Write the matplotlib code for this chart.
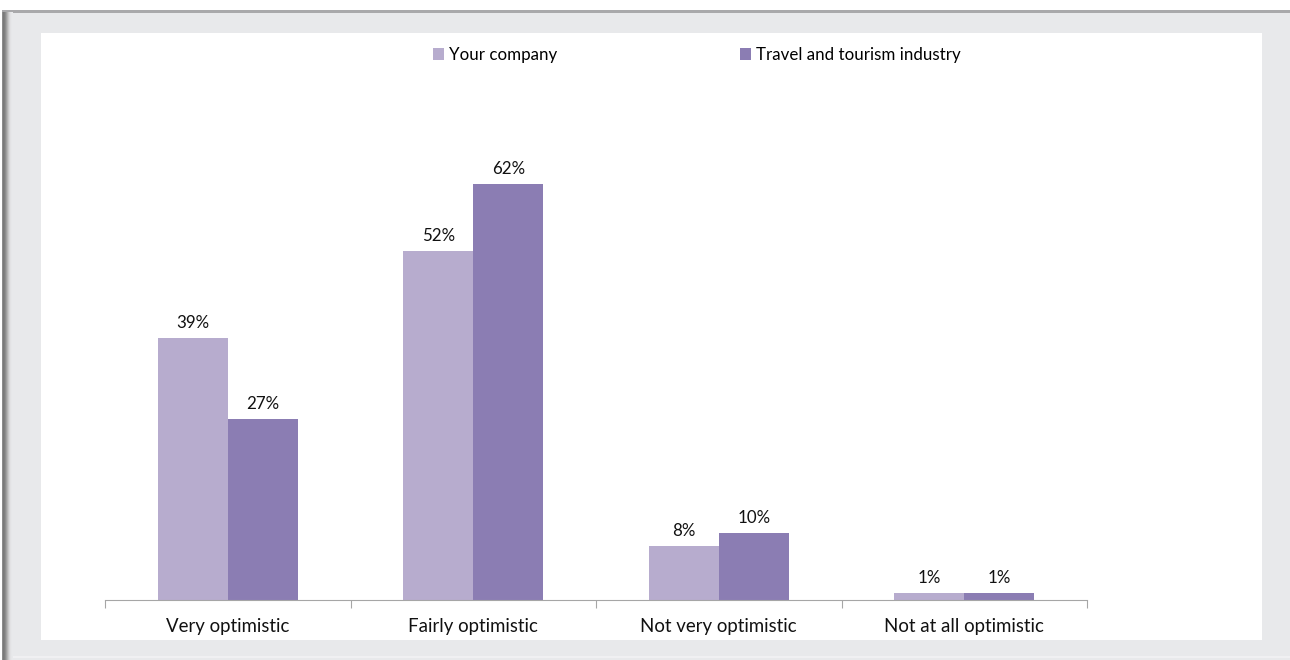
import numpy as np
import matplotlib.pyplot as plt
from matplotlib.patches import Rectangle

categories = ['Very optimistic', 'Fairly optimistic', 'Not very optimistic', 'Not at all optimistic']
your_company = [39, 52, 8, 1]
industry = [27, 62, 10, 1]
series_names = ['Your company', 'Travel and tourism industry']

light = '#b7acce'
dark = '#8b7db3'

plt.rcParams['font.family'] = ['Lato', 'DejaVu Sans']

W, H = 1290, 660
fig = plt.figure(figsize=(W / 100, H / 100), dpi=100, facecolor='#e8e9eb')

def px_rect(x0, y0, x1, y1, color):
    # rectangle given in pixel coords from the top-left corner
    fig.add_artist(Rectangle((x0 / W, 1 - y1 / H), (x1 - x0) / W, (y1 - y0) / H,
                             transform=fig.transFigure, facecolor=color,
                             edgecolor='none', zorder=0))

# frame: white strip on top, grey rule, soft shadow down the left side
px_rect(0, 0, W, 10, 'white')
px_rect(0, 10, W, 13, '#a9a9ab')
shades = ['#d8d8d8', '#b0b0b0', '#8c8c8c', '#7a7a7a', '#808080', '#8e8e8e',
          '#a0a0a0', '#b4b4b4', '#c8c8c8', '#d8d8da', '#e2e2e4', '#e6e7e9', '#e8e9eb']
for i, c in enumerate(shades):
    px_rect(i, 12, i + 1, H, c)
px_rect(0, 10, 2, H, 'white')
px_rect(13, 656, W, 658, '#f0f0f2')
# white plot panel
px_rect(41, 33, 1262, 640, 'white')

ax = fig.add_axes([105 / W, 1 - 600 / H, (1087 - 105) / W, 470 / H])
ax.set_facecolor('none')

x = np.arange(len(categories))
w = 0.285
b1 = ax.bar(x - w / 2, your_company, w, color=light, label=series_names[0])
b2 = ax.bar(x + w / 2, industry, w, color=dark, label=series_names[1])
ax.bar_label(b1, fmt='%d%%', padding=5, fontsize=12.2, color='#111111')
ax.bar_label(b2, fmt='%d%%', padding=5, fontsize=12.2, color='#111111')

ax.set_xlim(-0.5, len(categories) - 0.5)
ax.set_ylim(0, 70)
ax.set_xticks(np.arange(len(categories) + 1) - 0.5)
ax.set_xticklabels([])
ax.set_xticks(x, minor=True)
ax.set_xticklabels(categories, minor=True, fontsize=13.4, color='#111111')
ax.tick_params(axis='x', which='major', length=6, color='#a6a6a6', direction='out')
ax.tick_params(axis='x', which='minor', length=0, pad=13)
ax.set_yticks([])
for s in ['top', 'right', 'left']:
    ax.spines[s].set_visible(False)
ax.spines['bottom'].set_color('#a6a6a6')

fig.legend(loc='center', bbox_to_anchor=(697 / W, 1 - 55 / H), ncol=2, frameon=False,
           fontsize=12.2, handlelength=0.65, handleheight=0.65, handletextpad=0.3,
           columnspacing=10.8)

fig.savefig('out.png', dpi=100, facecolor=fig.get_facecolor())
